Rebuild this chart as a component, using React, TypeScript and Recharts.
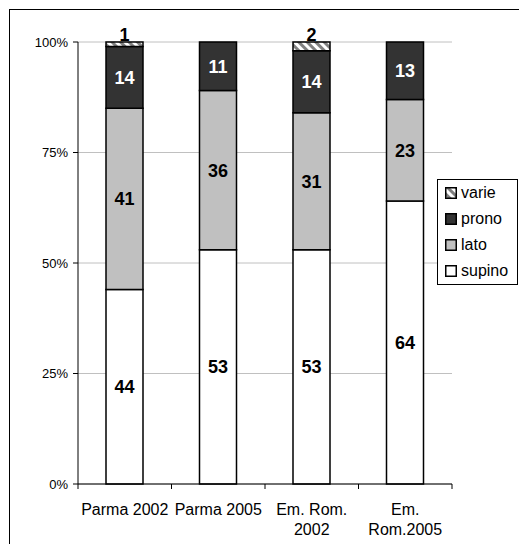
import React from "react";
import {
  BarChart,
  Bar,
  XAxis,
  YAxis,
  CartesianGrid,
  Legend,
  LabelList,
} from "recharts";

const CATEGORIES = ["Parma 2002", "Parma 2005", "Em. Rom. 2002", "Em. Rom.2005"];
const TICK_LINES = [["Parma 2002"], ["Parma 2005"], ["Em. Rom.", "2002"], ["Em.", "Rom.2005"]];
const SUPINO = [44, 53, 53, 64];
const LATO = [41, 36, 31, 23];
const PRONO = [14, 11, 14, 13];
const VARIE = [1, 0, 2, 0];
const Y_TICKS = [0, 25, 50, 75, 100];

const data = CATEGORIES.map((name, i) => ({
  name,
  supino: SUPINO[i],
  lato: LATO[i],
  prono: PRONO[i],
  varie: VARIE[i],
}));

const SERIES = [
  { key: "supino", fill: "#FFFFFF", label: "#000000" },
  { key: "lato", fill: "#C0C0C0", label: "#000000" },
  { key: "prono", fill: "#333333", label: "#FFFFFF" },
  { key: "varie", fill: "url(#hatch)", label: "#000000" },
];

const W = 519;
const H = 544;
const MARGIN = { top: 42, right: 67, bottom: 0, left: 0 };
const X_H = 60;
const Y_W = 78;
const PLOT_W = W - MARGIN.right - Y_W;
const BAND = PLOT_W / CATEGORIES.length;
const FONT = "'Liberation Sans', Arial, sans-serif";

const XTick = ({ x, y, index }: any) => {
  const lines = TICK_LINES[index] || [];
  const last = index === CATEGORIES.length - 1;
  return (
    <g>
      <line x1={x - BAND / 2} x2={x - BAND / 2} y1={y} y2={y + 5} stroke="#000" />
      {last && <line x1={x + BAND / 2} x2={x + BAND / 2} y1={y} y2={y + 5} stroke="#000" />}
      {lines.map((t: string, i: number) => (
        <text key={i} x={x} y={y + 31 + i * 20} textAnchor="middle" fontSize={16} fill="#000" fontFamily={FONT}>
          {t}
        </text>
      ))}
    </g>
  );
};

const LegendBox = () => (
  <div style={{
    border: "1px solid #000",
    background: "#fff",
    width: 81,
    fontFamily: FONT,
    fontSize: 16,
    color: "#000",
    boxSizing: "border-box",
  }}>
    {[...SERIES].reverse().map((s) => (
      <div key={s.key} style={{ height: 26, display: "flex", alignItems: "center", paddingLeft: 7 }}>
        <svg width={12} height={12} style={{ marginRight: 4 }}>
          <defs>
            <pattern id="hatchLeg" width="6" height="6" patternUnits="userSpaceOnUse" patternTransform="rotate(-45)">
              <rect width="6" height="6" fill="#fff" />
              <rect width="3" height="6" fill="#808080" />
            </pattern>
          </defs>
          <rect x={0.75} y={0.75} width={10.5} height={10.5}
            fill={s.key === "varie" ? "url(#hatchLeg)" : s.fill} stroke="#000" strokeWidth={1.5} />
        </svg>
        <span>{s.key}</span>
      </div>
    ))}
  </div>
);

export default function App() {
  return (
    <div style={{ position: "absolute", left: 0, top: 0, width: W, height: H, overflow: "hidden", background: "#fff" }}>
      <div style={{ position: "absolute", left: 9, top: 9, width: 700, height: 700, border: "1px solid #000" }} />
      <div style={{ position: "absolute", left: 0, top: 0 }}>
        <BarChart width={W} height={H} data={data} margin={MARGIN} barSize={37}>
          <defs>
            <pattern id="hatch" width="6" height="6" patternUnits="userSpaceOnUse" patternTransform="rotate(-45)">
              <rect width="6" height="6" fill="#fff" />
              <rect width="3" height="6" fill="#808080" />
            </pattern>
          </defs>
          <CartesianGrid vertical={false} stroke="#C0C0C0" />
          <XAxis
            dataKey="name"
            height={X_H}
            axisLine={{ stroke: "#000" }}
            tickLine={false}
            tickSize={0}
            tickMargin={0}
            interval={0}
            tick={<XTick />}
          />
          <XAxis xAxisId="top" orientation="top" dataKey="name" height={0} tick={false} tickLine={false} axisLine={{ stroke: "#808080" }} />
          <YAxis
            width={Y_W}
            domain={[0, 100]}
            ticks={Y_TICKS}
            tickFormatter={(v) => `${v}%`}
            axisLine={{ stroke: "#000" }}
            tickLine={{ stroke: "#000" }}
            tickSize={5}
            tickMargin={5}
            tick={{ fill: "#000", fontSize: 13, fontFamily: FONT }}
          />
          <YAxis yAxisId="right" orientation="right" width={0} domain={[0, 100]} tick={false} tickLine={false} axisLine={{ stroke: "#808080" }} />
          <Legend
            layout="vertical"
            align="center"
            verticalAlign="middle"
            content={<LegendBox />}
            wrapperStyle={{ position: "absolute", left: 437, top: 179, width: 81 }}
          />
          {SERIES.map((s) => (
            <Bar key={s.key} dataKey={s.key} stackId="a" fill={s.fill} stroke="#000" strokeWidth={1.5} isAnimationActive={false}>
              <LabelList
                dataKey={s.key}
                position={s.key === "varie" ? "top" : "center"}
                offset={1}
                formatter={(v: any) => (v ? v : "")}
                fill={s.label}
                fontSize={18}
                fontWeight="bold"
                fontFamily={FONT}
              />
            </Bar>
          ))}
        </BarChart>
      </div>
    </div>
  );
}
